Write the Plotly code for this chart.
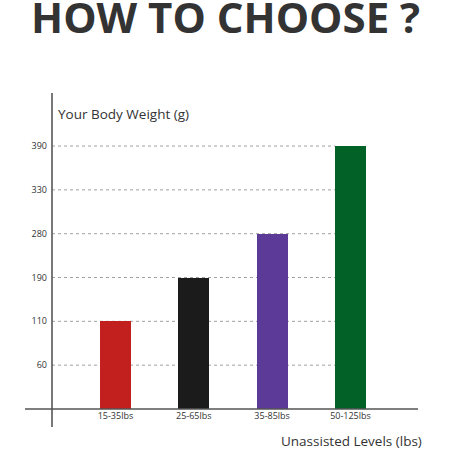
import plotly.graph_objects as go

categories = ["15-35lbs", "25-65lbs", "35-85lbs", "50-125lbs"]
weights = ["110", "190", "280", "390"]
tick_labels = ["60", "110", "190", "280", "330", "390"]
bar_colors = ["#C1201F", "#1B1B1B", "#5C3A97", "#016126"]

tick_vals = list(range(1, len(tick_labels) + 1))
bar_y = [tick_labels.index(w) + 1 for w in weights]

W, H = 450, 450
L, R, T, B = 52, 32, 93, 41
plot_w = W - L - R
plot_h = H - T - B
bar_width = 0.395
x_range = [-0.81, 3.862]
y_range = [0, 7.21]

fig = go.Figure()
fig.add_trace(go.Bar(
    x=categories, y=bar_y, marker=dict(color=bar_colors, line=dict(width=0)),
    width=bar_width, hoverinfo="skip",
))

shapes = []
for tv in tick_vals:
    shapes.append(dict(type="line", xref="x", yref="y", x0=x_range[0], x1=3 - bar_width / 2,
                       y0=tv, y1=tv, line=dict(color="#a0a0a0", width=1, dash="dot"), layer="below"))
# axis lines (cross style)
shapes.append(dict(type="line", xref="paper", yref="paper", x0=0, x1=0,
                   y0=-(427 - 409) / plot_h, y1=1, line=dict(color="#555555", width=1.6)))
shapes.append(dict(type="line", xref="paper", yref="paper", x0=-(L - 25) / plot_w, x1=1,
                   y0=0, y1=0, line=dict(color="#555555", width=1.6)))

font_family = "Open Sans, Noto Sans, sans-serif"

fig.update_layout(
    width=W, height=H,
    margin=dict(l=L, r=R, t=T, b=B),
    paper_bgcolor="white", plot_bgcolor="white",
    showlegend=False,
    font=dict(family=font_family, color="#333333"),
    bargap=0,
    xaxis=dict(range=x_range, showgrid=False, zeroline=False, showline=False,
               tickfont=dict(size=9, color="#333333"), ticks="", fixedrange=True),
    yaxis=dict(range=y_range, showgrid=False, zeroline=False, showline=False,
               tickvals=tick_vals, ticktext=tick_labels, ticks="",
               tickfont=dict(size=9, color="#333333"), ticklabelstandoff=4, fixedrange=True),
    shapes=shapes,
    annotations=[
        dict(text="<b>HOW TO CHOOSE ?</b>", xref="paper", yref="paper",
             x=(225 - L) / plot_w, y=1 + (T - 16) / plot_h, xanchor="center", yanchor="middle",
             showarrow=False, font=dict(size=42, color="#333333", family=font_family)),
        dict(text="Your Body Weight (g)", xref="paper", yref="paper",
             x=(56 - L) / plot_w, y=1 - (114 - T) / plot_h, xanchor="left", yanchor="middle",
             showarrow=False, font=dict(size=13.5, color="#333333")),
        dict(text="Unassisted Levels (lbs)", xref="paper", yref="paper",
             x=(424 - L) / plot_w, y=-(441 - 409) / plot_h, xanchor="right", yanchor="middle",
             showarrow=False, font=dict(size=13.5, color="#333333")),
    ],
)

fig.write_html("out.html", config={"displayModeBar": False},
               post_script="document.body.style.margin='0';document.body.style.padding='0';")
